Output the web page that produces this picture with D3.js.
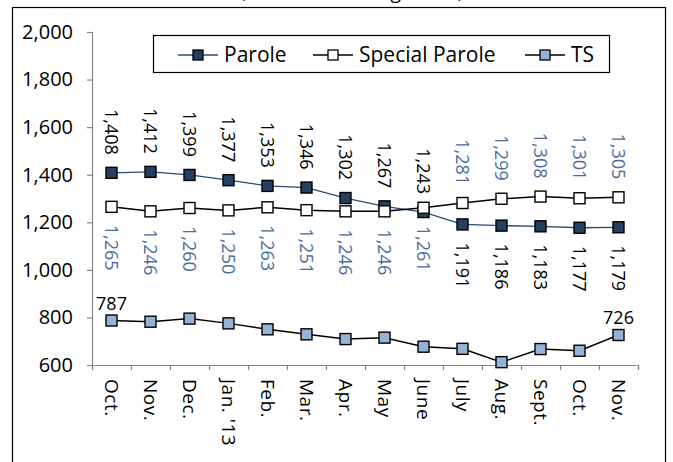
<!DOCTYPE html>
<html>
<head>
<meta charset="utf-8">
<script src="https://cdn.jsdelivr.net/npm/d3@7"></script>
<style>
  body { margin: 0; background: #fff; }
  text { font-family: "Open Sans", sans-serif; }
</style>
</head>
<body>
<svg id="chart" width="673" height="462"></svg>
<script>
// Chart data
const months = ["Oct.", "Nov.", "Dec.", "Jan. '13", "Feb.", "Mar.", "Apr.", "May", "June", "July", "Aug.", "Sept.", "Oct.", "Nov."];
const parole = [1408, 1412, 1399, 1377, 1353, 1346, 1302, 1267, 1243, 1191, 1186, 1183, 1177, 1179];
const specialParole = [1265, 1246, 1260, 1250, 1263, 1251, 1246, 1246, 1261, 1281, 1299, 1308, 1301, 1305];
const ts = [787, 782, 795, 775, 750, 729, 709, 715, 677, 668, 612, 667, 660, 726];
const yTicks = [600, 800, 1000, 1200, 1400, 1600, 1800, 2000];
const titleText = "Count, Oct. 2012 through Nov., 2013";

const svg = d3.select("#chart");

// Outer frame and (clipped) title
svg.append("rect")
    .attr("x", 12.5).attr("y", 7.5)
    .attr("width", 653).attr("height", 480)
    .style("fill", "none").style("stroke", "#000").style("stroke-width", 1.2);

svg.append("text")
    .attr("x", 350).attr("y", -1)
    .attr("text-anchor", "middle")
    .style("font-size", "19px")
    .text(titleText);

// Scales
const x = d3.scaleBand().domain(d3.range(months.length)).range([92, 638]);
const xEdge = d3.scaleLinear().domain([0, months.length]).range([92, 638]);
const y = d3.scaleLinear().domain([600, 2000]).range([365, 32]);
const cx = i => x(i) + x.bandwidth() / 2;

// Axes
const yAxis = svg.append("g")
    .attr("transform", "translate(92,0)")
    .call(d3.axisLeft(y).tickValues(yTicks).tickFormat(d3.format(",")).tickSize(5).tickPadding(14));
const xAxis = svg.append("g")
    .attr("transform", "translate(0,365)")
    .call(d3.axisBottom(xEdge).tickValues(d3.range(months.length + 1)).tickFormat("").tickSize(5));

[yAxis, xAxis].forEach(a => {
    a.select(".domain").style("stroke", "#868686").style("stroke-width", 1.2);
    a.selectAll(".tick line").style("stroke", "#868686").style("stroke-width", 1.2);
});
yAxis.selectAll(".tick text")
    .style("font-size", "20px").style("fill", "#000")
    .style("font-family", "'Open Sans', sans-serif");

// Category labels, rotated
svg.append("g").selectAll("text")
    .data(months)
    .join("text")
    .attr("transform", (d, i) => `translate(${cx(i)},379) rotate(90)`)
    .attr("dy", "0.35em")
    .style("font-size", "19px")
    .style("letter-spacing", "0.5px")
    .text(d => d);

// Series
const series = [
    { name: "Parole", values: parole, fill: "#243f60", line: "#2b4a72", lw: 1.3 },
    { name: "Special Parole", values: specialParole, fill: "#ffffff", line: "#000", lw: 1.5 },
    { name: "TS", values: ts, fill: "#95b3d7", line: "#000", lw: 1.5 }
];

const lineGen = d3.line().x((d, i) => cx(i)).y(d => y(d));
const mk = 11;

series.forEach(s => {
    const g = svg.append("g");
    g.append("path")
        .datum(s.values)
        .attr("d", lineGen)
        .style("fill", "none")
        .style("stroke", s.line)
        .style("stroke-width", s.lw);
    g.selectAll("rect")
        .data(s.values)
        .join("rect")
        .attr("x", (d, i) => cx(i) - mk / 2)
        .attr("y", d => y(d) - mk / 2)
        .attr("width", mk).attr("height", mk)
        .style("fill", s.fill)
        .style("stroke", "#000")
        .style("stroke-width", 1.4);
});

// Data labels: Parole (black) above for first nine months, below after
const labels = svg.append("g");
labels.selectAll(".lp")
    .data(parole)
    .join("text")
    .attr("class", "lp")
    .attr("transform", (d, i) => i < 9
        ? `translate(${cx(i)},${y(d) - 18}) rotate(90)`
        : `translate(${cx(i)},${y(d) + 18}) rotate(90)`)
    .attr("text-anchor", (d, i) => i < 9 ? "end" : "start")
    .attr("dy", "0.35em")
    .style("font-size", "18px")
    .style("fill", "#000")
    .text(d => d3.format(",")(d));

// Special Parole (blue) below for first nine months, above after
labels.selectAll(".ls")
    .data(specialParole)
    .join("text")
    .attr("class", "ls")
    .attr("transform", (d, i) => i < 9
        ? `translate(${cx(i)},${y(d) + 18}) rotate(90)`
        : `translate(${cx(i)},${y(d) - 18}) rotate(90)`)
    .attr("text-anchor", (d, i) => i < 9 ? "start" : "end")
    .attr("dy", "0.35em")
    .style("font-size", "18px")
    .style("fill", "#4a6d9e")
    .text(d => d3.format(",")(d));

// TS: only first and last
[0, ts.length - 1].forEach(i => {
    labels.append("text")
        .attr("x", cx(i))
        .attr("y", y(ts[i]) - 11)
        .attr("text-anchor", "middle")
        .style("font-size", "18px")
        .text(d3.format(",")(ts[i]));
});

// Legend
const legend = svg.append("g");
legend.append("rect")
    .attr("x", 153.5).attr("y", 35.5)
    .attr("width", 456).attr("height", 37)
    .style("fill", "#fff").style("stroke", "#000").style("stroke-width", 1.2);

const legX = [198, 333, 545];
series.forEach((s, k) => {
    const g = legend.append("g").attr("transform", `translate(${legX[k]},55)`);
    g.append("line")
        .attr("x1", -20).attr("x2", 20)
        .style("stroke", s.line).style("stroke-width", s.lw);
    g.append("rect")
        .attr("x", -5).attr("y", -5).attr("width", 10).attr("height", 10)
        .style("fill", s.fill).style("stroke", "#000").style("stroke-width", 1.3);
    g.append("text")
        .attr("x", 26).attr("dy", "0.35em")
        .style("font-size", "21px")
        .text(s.name);
});
</script>
</body>
</html>
